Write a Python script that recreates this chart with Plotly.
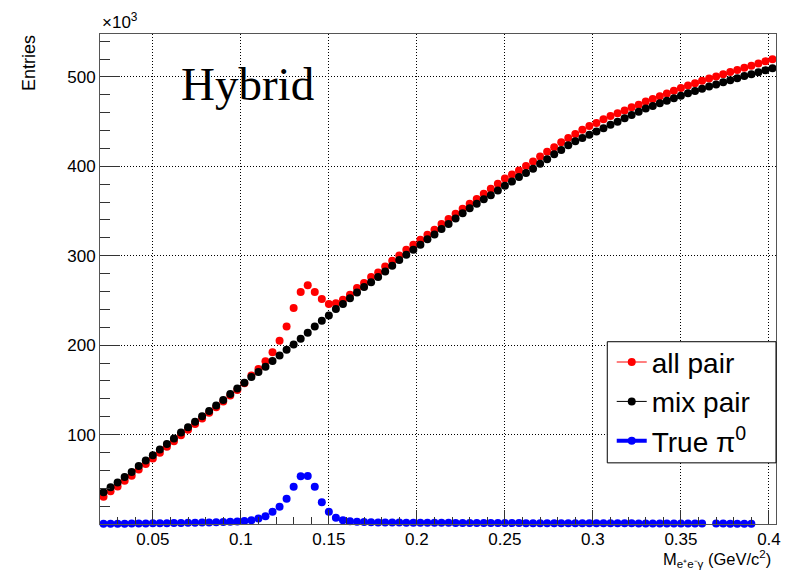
import plotly.graph_objects as go

# Bin centers (GeV/c^2), 0.004 GeV/c^2 bins
mass = [0.022, 0.026, 0.030, 0.034, 0.038, 0.042, 0.046, 0.050, 0.054, 0.058,
        0.062, 0.066, 0.070, 0.074, 0.078, 0.082, 0.086, 0.090, 0.094, 0.098,
        0.102, 0.106, 0.110, 0.114, 0.118, 0.122, 0.126, 0.130, 0.134, 0.138,
        0.142, 0.146, 0.150, 0.154, 0.158, 0.162, 0.166, 0.170, 0.174, 0.178,
        0.182, 0.186, 0.190, 0.194, 0.198, 0.202, 0.206, 0.210, 0.214, 0.218,
        0.222, 0.226, 0.230, 0.234, 0.238, 0.242, 0.246, 0.250, 0.254, 0.258,
        0.262, 0.266, 0.270, 0.274, 0.278, 0.282, 0.286, 0.290, 0.294, 0.298,
        0.302, 0.306, 0.310, 0.314, 0.318, 0.322, 0.326, 0.330, 0.334, 0.338,
        0.342, 0.346, 0.350, 0.354, 0.358, 0.362, 0.366, 0.370, 0.374, 0.378,
        0.382, 0.386, 0.390, 0.394, 0.398, 0.402]

# Entries in units of 10^3
all_pair = [30.5, 36.5, 41.8, 48.3, 54.0, 61.0, 67.2, 73.3, 79.8, 86.3,
            92.5, 99.3, 105.5, 111.8, 118.1, 124.3, 130.6, 137.0, 143.8, 150.0,
            157.3, 166.0, 173.4, 182.0, 192.0, 205.0, 221.0, 241.6, 259.5, 266.9,
            259.5, 251.6, 246.0, 247.0, 250.8, 256.4, 263.9, 269.5, 276.2, 281.3,
            288.0, 294.4, 300.3, 306.7, 312.3, 317.9, 323.5, 329.0, 335.6, 341.0,
            347.0, 352.5, 358.1, 363.4, 369.3, 374.8, 380.5, 386.5, 390.8, 395.3,
            400.5, 405.3, 410.9, 416.3, 421.4, 427.0, 431.6, 436.3, 440.8, 445.0,
            448.5, 452.7, 456.3, 459.4, 462.5, 466.0, 469.0, 472.4, 475.3, 478.3,
            481.5, 484.6, 487.6, 490.4, 493.0, 495.6, 498.1, 500.6, 503.0, 505.4,
            507.8, 510.2, 512.6, 515.0, 517.4, 519.8]

mix_pair = [35.4, 41.0, 46.3, 52.6, 58.2, 65.0, 71.0, 77.0, 83.3, 89.6,
            95.6, 102.2, 108.3, 114.3, 120.4, 126.4, 132.6, 138.8, 145.4, 151.5,
            158.0, 164.3, 170.0, 175.8, 182.4, 188.4, 195.0, 200.8, 207.3, 213.8,
            220.8, 227.3, 233.2, 240.5, 246.0, 252.6, 259.0, 265.0, 270.4, 276.3,
            282.5, 288.7, 295.2, 301.0, 306.7, 312.4, 318.4, 323.7, 329.8, 335.6,
            341.8, 347.5, 353.0, 358.1, 363.2, 367.8, 373.0, 378.2, 383.0, 388.0,
            392.6, 397.4, 402.8, 408.0, 413.4, 418.4, 423.6, 428.0, 431.6, 435.2,
            438.9, 442.7, 446.4, 450.0, 453.9, 457.5, 461.0, 464.6, 467.6, 470.6,
            473.4, 476.2, 479.0, 481.6, 484.2, 486.7, 489.2, 491.6, 494.0, 496.3,
            498.6, 500.9, 503.1, 505.3, 507.5, 509.7]

true_pi0 = [0.3, 0.3, 0.4, 0.4, 0.5, 0.5, 0.6, 0.7, 0.8, 0.9,
            1.0, 1.1, 1.3, 1.4, 1.6, 1.8, 2.0, 2.2, 2.5, 2.8,
            3.3, 4.2, 6.1, 8.7, 13.6, 19.3, 28.2, 41.6, 53.4, 53.6,
            41.6, 24.4, 13.6, 6.9, 4.2, 3.0, 2.4, 2.1, 1.9, 1.8,
            1.7, 1.6, 1.6, 1.5, 1.5, 1.4, 1.4, 1.3, 1.3, 1.3,
            1.2, 1.2, 1.2, 1.1, 1.1, 1.1, 1.0, 1.0, 1.0, 1.0,
            0.9, 0.9, 0.9, 0.9, 0.9, 0.8, 0.8, 0.8, 0.8, 0.8,
            0.7, 0.7, 0.7, 0.7, 0.7, 0.7, 0.6, 0.6, 0.6, 0.6,
            0.6, 0.6, 0.5, 0.5, 0.5, 0.5, None, 0.5, 0.5, 0.4,
            0.4, 0.4, 0.4, None, None, None]

x_tick_vals = [0.05, 0.1, 0.15, 0.2, 0.25, 0.3, 0.35, 0.4]
x_tick_text = ["0.05", "0.1", "0.15", "0.2", "0.25", "0.3", "0.35", "0.4"]
y_tick_vals = [100, 200, 300, 400, 500]
y_tick_text = ["100", "200", "300", "400", "500"]

series = [
    ("all pair", all_pair, "#ff0000", 1),
    ("mix pair", mix_pair, "#000000", 1),
    ("True π<sup>0</sup>", true_pi0, "#0000ff", 4),
]

fig = go.Figure()
for i, (name, vals, color, lw) in enumerate(series):
    fig.add_trace(go.Scatter(
        x=mass, y=vals, mode="markers", showlegend=False,
        marker=dict(symbol="circle", size=8, color=color),
        cliponaxis=False,
    ))
for i, (name, vals, color, lw) in enumerate(series):
    fig.add_trace(go.Scatter(
        x=[None], y=[None], mode="lines+markers", name=name,
        legendgroup=f"g{i}",
        line=dict(color=color, width=lw),
        marker=dict(symbol="circle", size=8, color=color),
    ))

axis_common = dict(
    showline=True, linecolor="#555555", linewidth=1, mirror=True,
    ticks="inside", tickcolor="#333333", tickwidth=1,
    showgrid=True, gridcolor="black", griddash="1px,2px", gridwidth=1,
    zeroline=False,
    tickfont=dict(family="Liberation Sans, Arial", size=17, color="black"),
)

fig.update_xaxes(
    range=[0.02, 0.404], tickmode="array", tickvals=x_tick_vals, ticktext=x_tick_text,
    ticklen=14,
    minor=dict(tickmode="linear", tick0=0, dtick=0.01, ticks="inside", ticklen=7,
               tickcolor="#333333", showgrid=False),
    **axis_common,
)
fig.update_yaxes(
    range=[0, 548], tickmode="array", tickvals=y_tick_vals, ticktext=y_tick_text,
    ticklen=20,
    minor=dict(tickmode="linear", tick0=0, dtick=20, ticks="inside", ticklen=10,
               tickcolor="#333333", showgrid=False),
    **axis_common,
)

fig.add_shape(type="rect", xref="paper", yref="paper",
              x0=0.7504, x1=1.0, y0=0.1248, y1=0.372,
              line=dict(color="black", width=1), fillcolor="white", layer="above")

fig.update_layout(
    width=792, height=571,
    margin=dict(l=100, r=11, t=34, b=47),
    plot_bgcolor="white", paper_bgcolor="white",
    font=dict(family="Liberation Sans, Arial", size=17, color="black"),
    showlegend=True,
    legend=dict(x=0.757, y=0.381, xanchor="left", yanchor="top",
                bgcolor="rgba(0,0,0,0)", borderwidth=0,
                font=dict(family="Liberation Sans, Arial", size=28, color="black"),
                tracegroupgap=0, itemwidth=30),
    annotations=[
        dict(text="×10<sup>3</sup>", xref="paper", yref="paper", x=0.0, y=1.0,
             xanchor="left", yanchor="bottom", showarrow=False,
             font=dict(family="Liberation Sans, Arial", size=17)),
        dict(text="Entries", xref="paper", yref="paper", x=-0.105, y=0.941,
             xanchor="center", yanchor="middle", textangle=-90, showarrow=False,
             font=dict(family="Liberation Sans, Arial", size=18)),
        dict(text="Hybrid", xref="paper", yref="paper", x=0.1175, y=0.898,
             xanchor="left", yanchor="middle", showarrow=False,
             font=dict(family="Liberation Serif, Times New Roman", size=47)),
        dict(text="M<sub>e⁺e⁻γ</sub> (GeV/c<sup>2</sup>)", xref="paper", yref="paper",
             x=0.9956, y=-0.0715, xanchor="right", yanchor="middle", showarrow=False,
             font=dict(family="Liberation Sans, Arial", size=16.5)),
    ],
)

fig.write_html("out.html")
